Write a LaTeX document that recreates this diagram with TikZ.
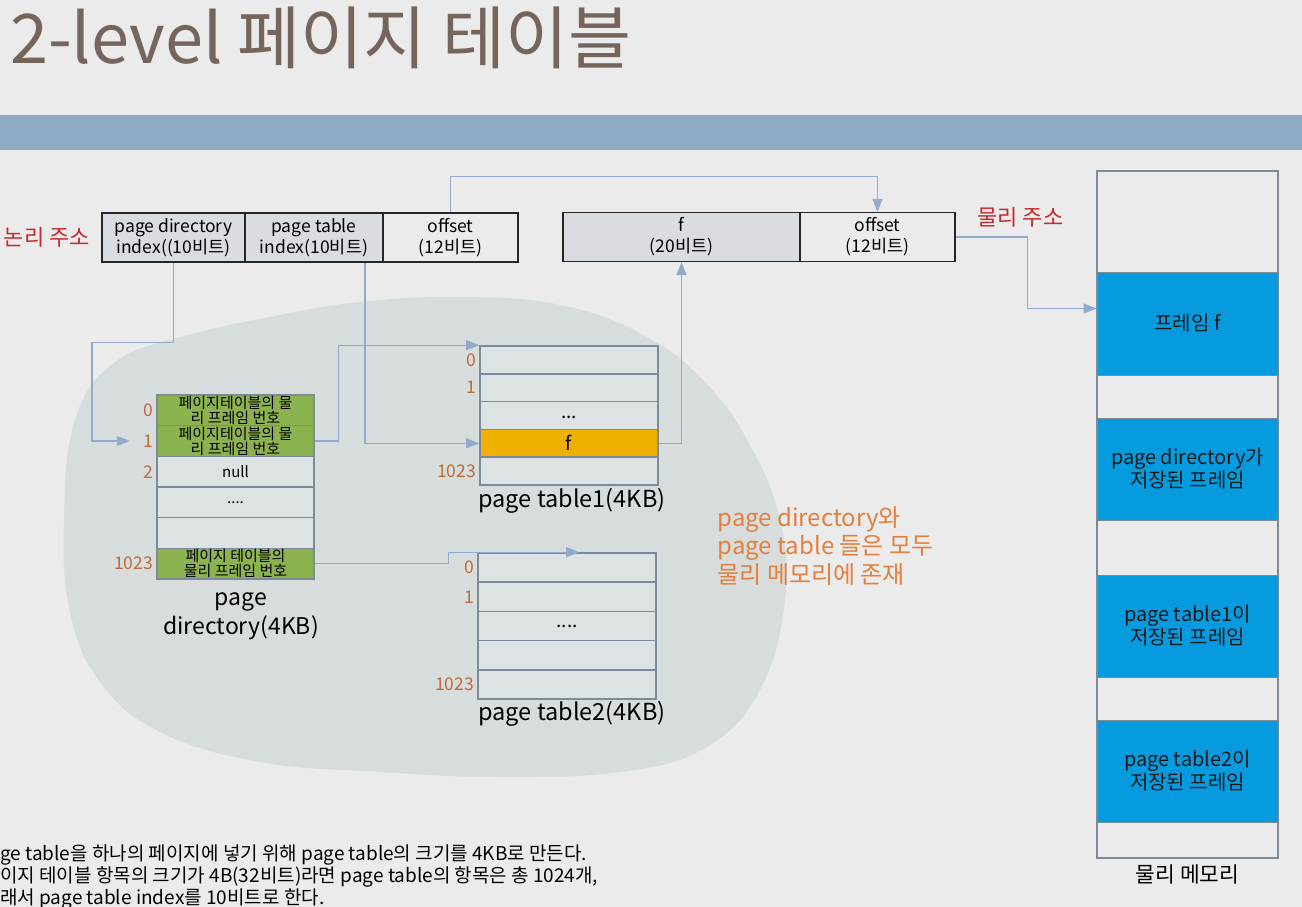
\documentclass[tikz,border=0pt]{standalone}
\usepackage{fontspec}
\setmainfont{Noto Sans CJK KR}
\usetikzlibrary{arrows.meta,positioning}

\definecolor{bgc}{HTML}{EBEBEB}
\definecolor{bandc}{HTML}{8EAAC4}
\definecolor{titlec}{HTML}{76655C}
\definecolor{blobc}{HTML}{D7DDDD}
\definecolor{cellc}{HTML}{DDE2E4}
\definecolor{boxc}{HTML}{D9DDE1}
\definecolor{greenc}{HTML}{8DB350}
\definecolor{fc}{HTML}{F0B000}
\definecolor{numc}{HTML}{C06A3A}
\definecolor{notec}{HTML}{E3803F}
\definecolor{redc}{HTML}{C8282A}
\definecolor{linkc}{HTML}{92AACB}
\definecolor{edgec}{HTML}{7D8A98}
\definecolor{memc}{HTML}{069BDE}

\begin{document}
\begin{tikzpicture}[x=1pt,y=-1pt,
    link/.style={draw=linkc, line width=1.3pt, -{Triangle[length=13pt,width=10pt]}},
    addr/.style={draw=black!85, line width=1.2pt, minimum height=49pt, inner sep=0pt, align=center, font=\fontsize{17.5}{21}\selectfont},
    pdrow/.style={draw=edgec, line width=1.6pt, fill=cellc, minimum width=157pt, minimum height=30.7pt, inner sep=0pt, align=center, font=\fontsize{15}{15}\selectfont},
    ptrow/.style={draw=edgec, line width=1.6pt, fill=cellc, minimum width=178pt, inner sep=0pt, align=center, font=\fontsize{19}{20}\selectfont},
    num/.style={left, text=numc, font=\fontsize{17.5}{18}\selectfont, inner sep=3pt},
    memblk/.style={draw=edgec, line width=1pt, fill=memc, minimum width=181pt, minimum height=102pt, align=center, text=black!90, font=\fontsize{20}{23}\selectfont},
    tag/.style={text=redc, font=\fontsize{22}{24}\selectfont},
  ]
  \useasboundingbox (0,0) rectangle (1302,907);
  \fill[bgc] (0,0) rectangle (1302,907);
  \fill[bandc] (0,115) rectangle (1302,150);
  \node[anchor=base west, inner sep=0pt, text=titlec, font=\fontsize{68.5}{72}\selectfont] (title) at (10,64) {2-level 페이지 테이블};

  % memory region blob
  \fill[blobc] plot[smooth cycle, tension=0.7] coordinates {
    (75,420) (115,362) (185,336) (265,318) (360,302) (470,297) (565,306)
    (645,336) (705,382) (750,445) (780,520) (785,600) (760,690) (705,748)
    (620,772) (500,777) (380,772) (260,762) (160,732) (100,682) (70,612) (64,520)};

  % logical address
  \node[addr, fill=boxc, minimum width=143pt] (lpd) at (173.5,237.5) {page directory\\index((10비트)};
  \node[addr, fill=boxc, minimum width=138pt] (lpt) at (314,237.5) {page table\\index(10비트)};
  \node[addr, minimum width=135pt] (loff) at (450.5,237.5) {offset\\(12비트)};
  \node[tag, left=8pt of lpd.west] (ltag) {논리 주소};

  % physical address
  \node[addr, fill=boxc, minimum width=237pt] (pf) at (681.5,237) {f\\(20비트)};
  \node[addr, minimum width=155pt] (poff) at (877.5,237) {offset\\(12비트)};
  \node[tag, anchor=west] (ptag) at (974,217) {물리 주소};

  % page directory
  \node[pdrow, fill=greenc] (pd0) at (235.5,410.3) {페이지테이블의 물\\리 프레임 번호};
  \node[pdrow, fill=greenc] (pd1) at (235.5,441) {페이지테이블의 물\\리 프레임 번호};
  \node[pdrow] (pd2) at (235.5,471.7) {null};
  \node[pdrow] (pd3) at (235.5,502.3) {....};
  \node[pdrow] (pd4) at (235.5,533) {};
  \node[pdrow, fill=greenc] (pd5) at (235.5,563.7) {페이지 테이블의\\물리 프레임 번호};
  \node[num] (pdn0) at (pd0.west) {0};
  \node[num] (pdn1) at (pd1.west) {1};
  \node[num] (pdn2) at (pd2.west) {2};
  \node[num] (pdn5) at (pd5.west) {1023};
  \node[align=center, font=\fontsize{23}{29}\selectfont] (pdname) at (241,616) {page\\directory(4KB)};

  % page table 1
  \node[ptrow, minimum height=27.8pt] (pt10) at (569,359.9) {};
  \node[ptrow, minimum height=27.8pt] (pt11) at (569,387.7) {};
  \node[ptrow, minimum height=27.8pt] (pt12) at (569,415.5) {\raisebox{-6pt}{...}};
  \node[ptrow, minimum height=27.8pt, fill=fc] (pt1f) at (569,443.3) {f};
  \node[ptrow, minimum height=27.8pt] (pt14) at (569,471.1) {};
  \node[num] (pt1n0) at (pt10.west) {0};
  \node[num] (pt1n1) at (pt11.west) {1};
  \node[num] (pt1n4) at (pt14.west) {1023};
  \node[font=\fontsize{23.5}{24}\selectfont] (pt1name) at (572,501) {page table1(4KB)};

  % page table 2
  \node[ptrow, minimum height=29.2pt] (pt20) at (567,567.6) {};
  \node[ptrow, minimum height=29.2pt] (pt21) at (567,596.8) {};
  \node[ptrow, minimum height=29.2pt] (pt22) at (567,626) {....};
  \node[ptrow, minimum height=29.2pt] (pt23) at (567,655.2) {};
  \node[ptrow, minimum height=29.2pt] (pt24) at (567,684.4) {};
  \node[num] (pt2n0) at (pt20.west) {0};
  \node[num] (pt2n1) at (pt21.west) {1};
  \node[num] (pt2n4) at (pt24.west) {1023};
  \node[font=\fontsize{23.5}{24}\selectfont] (pt2name) at (572,714) {page table2(4KB)};

  \node[anchor=north west, align=left, text=notec, font=\fontsize{24}{28.5}\selectfont] (note) at (714,503)
    {page directory와\\page table 들은 모두\\물리 메모리에 존재};

  % physical memory
  \node[draw=edgec, line width=1.2pt, minimum width=181pt, minimum height=687pt, inner sep=0pt] (mem) at (1187.5,514.5) {};
  \node[memblk, minimum height=103pt] (memf) at (1187.5,323.5) {프레임 f};
  \node[memblk] (mempd) at (1187.5,469) {page directory가\\저장된 프레임};
  \node[memblk] (mempt1) at (1187.5,626) {page table1이\\저장된 프레임};
  \node[memblk] (mempt2) at (1187.5,771) {page table2이\\저장된 프레임};
  \node[below=3pt of mem, font=\fontsize{21.5}{24}\selectfont] (memname) {물리 메모리};

  % connectors
  \draw[link] (loff.north) -- +(0,-36) -| (poff.north);
  \coordinate (pdin) at (130,441);
  \draw[link] (lpd.south) -- +(0,80) -| ([xshift=-38pt]pdin) -- (pdin);
  \draw[link] ([xshift=51pt]lpt.south) |- (pt1f.west);
  \draw[link] (pd1.east) -- +(24,0) |- (pt10.north west);
  \draw[link] (pd5.east) -- +(134,0) |- ([xshift=102pt]pt20.north west);
  \draw[link] (pt1f.east) -| (pf.south);
  \draw[link] (poff.east) -- +(72,0) |- ([yshift=15pt]memf.west);

  \node[anchor=north west, align=left, inner sep=0pt, font=\fontsize{19}{21.8}\selectfont] (foot) at (0,845)
    {ge table을 하나의 페이지에 넣기 위해 page table의 크기를 4KB로 만든다.\\
     이지 테이블 항목의 크기가 4B(32비트)라면 page table의 항목은 총 1024개,\\
     래서 page table index를 10비트로 한다.};
\end{tikzpicture}
\end{document}
